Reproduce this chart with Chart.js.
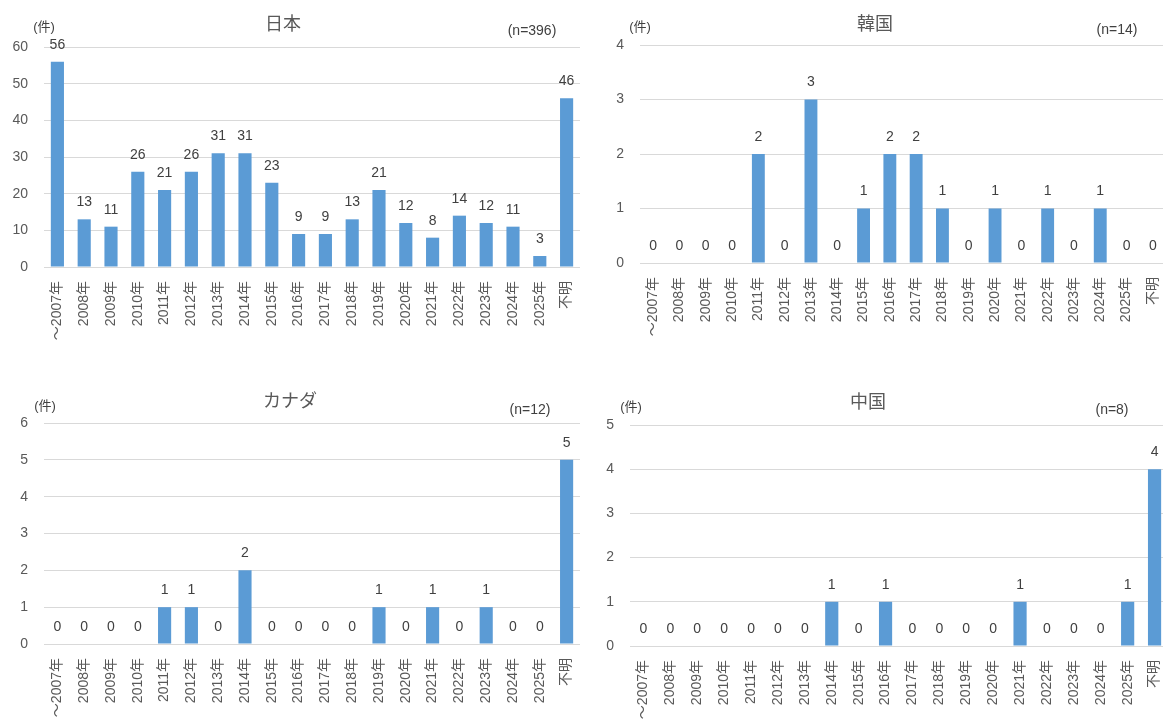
<!DOCTYPE html>
<html>
<head>
<meta charset="utf-8">
<script src="https://cdn.jsdelivr.net/npm/chart.js@4/dist/chart.umd.min.js"></script>
<style>
  html, body { margin: 0; padding: 0; background: #fff; width: 1163px; height: 721px; overflow: hidden; position: relative; }
  canvas { position: absolute; }
</style>
</head>
<body>
<canvas id="japan"></canvas>
<canvas id="korea"></canvas>
<canvas id="canada"></canvas>
<canvas id="china"></canvas>
<script>
// Categories (shared by all four panels)
const years = ["～2007年", "2008年", "2009年", "2010年", "2011年", "2012年", "2013年",
  "2014年", "2015年", "2016年", "2017年", "2018年", "2019年", "2020年", "2021年",
  "2022年", "2023年", "2024年", "2025年", "不明"];

// Counts per country
const japanCounts  = [56, 13, 11, 26, 21, 26, 31, 31, 23, 9, 9, 13, 21, 12, 8, 14, 12, 11, 3, 46];
const koreaCounts  = [0, 0, 0, 0, 2, 0, 3, 0, 1, 2, 2, 1, 0, 1, 0, 1, 0, 1, 0, 0];
const canadaCounts = [0, 0, 0, 0, 1, 1, 0, 2, 0, 0, 0, 0, 1, 0, 1, 0, 1, 0, 0, 5];
const chinaCounts  = [0, 0, 0, 0, 0, 0, 0, 1, 0, 1, 0, 0, 0, 0, 1, 0, 0, 0, 1, 4];

// Axis ranges
const japanAxis  = { max: 60, step: 10 };
const koreaAxis  = { max: 4, step: 1 };
const canadaAxis = { max: 6, step: 1 };
const chinaAxis  = { max: 5, step: 1 };

// Panel captions
const titles = ["日本", "韓国", "カナダ", "中国"];
const sampleSizes = ["(n=396)", "(n=14)", "(n=12)", "(n=8)"];
const unitLabel = "(件)";

const FONT = "'Liberation Sans', 'Noto Sans CJK JP', sans-serif";
const BAR_COLOR = "#5B9BD5";
const GRID_COLOR = "#D9D9D9";
const TICK_COLOR = "#595959";
const TEXT_COLOR = "#404040";
const RIGHT_GAP = 30; // spare canvas room right of the plot so the layout keeps the plot width

// Value labels above each bar
const valueLabels = {
  id: "valueLabels",
  afterDatasetsDraw(chart) {
    const ctx = chart.ctx;
    const meta = chart.getDatasetMeta(0);
    const values = chart.data.datasets[0].data;
    ctx.save();
    ctx.font = "14px " + FONT;
    ctx.fillStyle = TEXT_COLOR;
    ctx.textAlign = "center";
    ctx.textBaseline = "middle";
    meta.data.forEach((bar, i) => {
      ctx.fillText(String(values[i]), bar.x, bar.y - 17);
    });
    ctx.restore();
  }
};

// Title, unit and sample-size text for each panel
const captions = {
  id: "captions",
  afterDraw(chart, args, o) {
    const ctx = chart.ctx;
    ctx.save();
    ctx.textAlign = "center";
    ctx.textBaseline = "middle";
    ctx.fillStyle = TICK_COLOR;
    ctx.font = "18px " + FONT;
    ctx.fillText(o.title, o.titleX, o.titleY);
    ctx.fillStyle = TEXT_COLOR;
    ctx.font = "13px " + FONT;
    ctx.fillText(o.unit, o.unitX, o.unitY);
    ctx.font = "14px " + FONT;
    ctx.fillText(o.n, o.nX, o.nY);
    ctx.restore();
  }
};

const panels = [
  { id: "japan",  left: 0,   top: 0,   height: 375,
    area: { left: 44, right: 580, top: 47, bottom: 267 }, axis: japanAxis, values: japanCounts,
    cap: { title: titles[0], titleX: 283, titleY: 25, unit: unitLabel, unitX: 44, unitY: 27, n: sampleSizes[0], nX: 532, nY: 31 } },
  { id: "korea",  left: 590, top: 0,   height: 375,
    area: { left: 50, right: 576, top: 45, bottom: 263 }, axis: koreaAxis, values: koreaCounts,
    cap: { title: titles[1], titleX: 285, titleY: 25, unit: unitLabel, unitX: 50, unitY: 27, n: sampleSizes[1], nX: 527, nY: 30 } },
  { id: "canada", left: 0,   top: 380, height: 341,
    area: { left: 44, right: 580, top: 43, bottom: 264 }, axis: canadaAxis, values: canadaCounts,
    cap: { title: titles[2], titleX: 290, titleY: 22, unit: unitLabel, unitX: 45, unitY: 26, n: sampleSizes[2], nX: 530, nY: 30 } },
  { id: "china",  left: 590, top: 380, height: 341,
    area: { left: 40, right: 578, top: 45, bottom: 266 }, axis: chinaAxis, values: chinaCounts,
    cap: { title: titles[3], titleX: 278, titleY: 23, unit: unitLabel, unitX: 41, unitY: 27, n: sampleSizes[3], nX: 522, nY: 30 } }
];

panels.forEach(p => {
  const cv = document.getElementById(p.id);
  const width = p.area.right + RIGHT_GAP;
  cv.width = width;
  cv.height = p.height;
  cv.style.left = p.left + "px";
  cv.style.top = p.top + "px";
  new Chart(cv, {
    type: "bar",
    data: {
      labels: years,
      datasets: [{
        data: p.values,
        backgroundColor: BAR_COLOR,
        categoryPercentage: 1,
        barPercentage: 0.49
      }]
    },
    options: {
      responsive: false,
      animation: false,
      devicePixelRatio: 1,
      layout: { padding: { left: 0, top: p.area.top, right: RIGHT_GAP, bottom: 0 } },
      plugins: {
        legend: { display: false },
        tooltip: { enabled: false },
        captions: p.cap
      },
      scales: {
        x: {
          grid: { display: false, drawTicks: false },
          border: { display: false },
          ticks: {
            autoSkip: false, maxRotation: 90, minRotation: 90, padding: 14,
            color: TICK_COLOR, font: { size: 14, family: FONT }
          },
          afterFit(s) { s.height = p.height - p.area.bottom; }
        },
        y: {
          min: 0, max: p.axis.max,
          grid: { color: GRID_COLOR, lineWidth: 1, drawTicks: false },
          border: { display: false },
          ticks: {
            stepSize: p.axis.step, padding: 16,
            color: TICK_COLOR, font: { size: 14, family: FONT }
          },
          afterFit(s) { s.width = p.area.left; }
        }
      }
    },
    plugins: [valueLabels, captions]
  });
});
</script>
</body>
</html>
